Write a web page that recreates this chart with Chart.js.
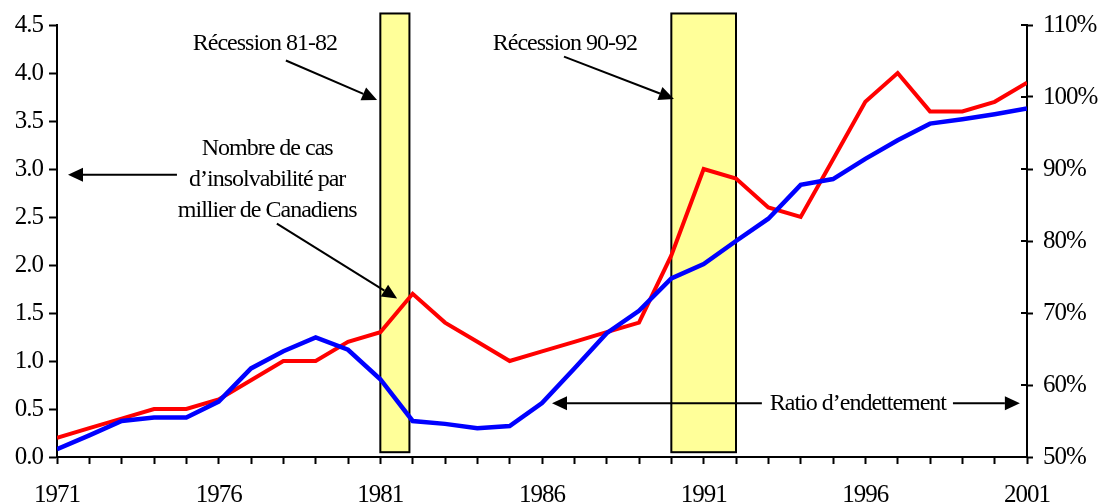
<!DOCTYPE html>
<html>
<head>
<meta charset="utf-8">
<script src="https://cdn.jsdelivr.net/npm/chart.js@4.4.1/dist/chart.umd.min.js"></script>
<style>
  html, body { margin: 0; padding: 0; background: #ffffff; }
  #wrap { width: 1101px; height: 503px; }
</style>
</head>
<body>
<div id="wrap"><canvas id="c" width="1101" height="503"></canvas></div>
<script>
// ---------------- DATA ----------------
const years = [1971,1972,1973,1974,1975,1976,1977,1978,1979,1980,1981,1982,1983,1984,1985,1986,1987,1988,1989,1990,1991,1992,1993,1994,1995,1996,1997,1998,1999,2000,2001];
// Nombre de cas d'insolvabilité par millier de Canadiens (axe de gauche)
const insolvency = [0.2,0.3,0.4,0.5,0.5,0.6,0.8,1.0,1.0,1.2,1.3,1.7,1.4,1.2,1.0,1.1,1.2,1.3,1.4,2.1,3.0,2.9,2.6,2.5,3.1,3.7,4.0,3.6,3.6,3.7,3.9];
// Ratio d'endettement, % (axe de droite)
const debtRatio = [51.1,53.0,55.0,55.5,55.5,57.7,62.3,64.7,66.6,64.9,60.8,55.0,54.6,54.0,54.3,57.5,62.3,67.2,70.3,74.8,76.8,80.0,83.1,87.8,88.6,91.4,94.0,96.3,96.9,97.6,98.4];
// Recession bands (years)
const recessionStart = [1981, 1990];
const recessionEnd   = [1981.9, 1992];
// Axis tick settings
const leftTicks = { min: 0, max: 4.5, step: 0.5 };
const rightTicks = { min: 50, max: 110, step: 10 };
const labelYears = [1971, 1976, 1981, 1986, 1991, 1996, 2001];

// ---------------- ANNOTATIONS (data coordinates: x = year, y = left axis) ----------------
const texts = [
  { lines: ['Récession 81-82'], x: 1977.43, y: 4.30 },
  { lines: ['Récession 90-92'], x: 1986.71, y: 4.30 },
  { lines: ['Nombre de cas', 'd\u2019insolvabilité par', 'millier de Canadiens'], x: 1977.5, y: 3.21, dy: 0.32 },
  { lines: ['Ratio d\u2019endettement'], x: 1995.77, y: 0.56 }
];
const arrows = [
  { x1: 1978.08, y1: 4.13, x2: 1980.90, y2: 3.72 },
  { x1: 1986.68, y1: 4.17, x2: 1990.08, y2: 3.73 },
  { x1: 1977.80, y1: 2.43, x2: 1981.52, y2: 1.65 },
  { x1: 1974.71, y1: 2.94, x2: 1971.34, y2: 2.94 },
  { x1: 1992.80, y1: 0.56, x2: 1986.31, y2: 0.56 },
  { x1: 1998.71, y1: 0.56, x2: 2000.78, y2: 0.56 }
];
const bandTop = 4.62, bandBottom = 0.05;

const FONT = "'Liberation Serif', 'Times New Roman', serif";
const SPACING = '-1px';

const spacingPlugin = {
  id: 'spacing',
  beforeUpdate(chart) { chart.ctx.letterSpacing = SPACING; },
  beforeLayout(chart) { chart.ctx.letterSpacing = SPACING; },
  beforeDraw(chart) { chart.ctx.letterSpacing = SPACING; }
};

const bandPlugin = {
  id: 'bands',
  beforeDatasetsDraw(chart) {
    const ctx = chart.ctx, xs = chart.scales.x, ys = chart.scales.y;
    ctx.save();
    for (let i = 0; i < recessionStart.length; i++) {
      const l = xs.getPixelForValue(recessionStart[i]);
      const r = xs.getPixelForValue(recessionEnd[i]);
      const t = ys.getPixelForValue(bandTop);
      const b = ys.getPixelForValue(bandBottom);
      ctx.fillStyle = '#FFFF99';
      ctx.fillRect(l, t, r - l, b - t);
      ctx.strokeStyle = '#000000';
      ctx.lineWidth = 2;
      ctx.strokeRect(l, t, r - l, b - t);
    }
    ctx.restore();
  }
};

function drawArrow(ctx, x1, y1, x2, y2) {
  const ang = Math.atan2(y2 - y1, x2 - x1);
  const len = 15, hw = 7;
  const bx = x2 - len * Math.cos(ang), by = y2 - len * Math.sin(ang);
  ctx.beginPath();
  ctx.moveTo(x1, y1);
  ctx.lineTo(bx, by);
  ctx.stroke();
  ctx.beginPath();
  ctx.moveTo(x2, y2);
  ctx.lineTo(bx + hw * Math.sin(ang), by - hw * Math.cos(ang));
  ctx.lineTo(bx - hw * Math.sin(ang), by + hw * Math.cos(ang));
  ctx.closePath();
  ctx.fill();
}

const annotPlugin = {
  id: 'annot',
  afterDatasetsDraw(chart) {
    const ctx = chart.ctx, xs = chart.scales.x, ys = chart.scales.y, y1s = chart.scales.y1;
    ctx.save();
    ctx.letterSpacing = SPACING;
    // right-axis ticks crossing the axis line (inner half)
    ctx.strokeStyle = '#000'; ctx.lineWidth = 2;
    const ax = chart.chartArea.right;
    y1s.ticks.forEach(t => {
      const py = Math.round(y1s.getPixelForValue(t.value));
      ctx.beginPath(); ctx.moveTo(ax - 6, py); ctx.lineTo(ax, py); ctx.stroke();
    });
    // arrows
    ctx.fillStyle = '#000'; ctx.strokeStyle = '#000'; ctx.lineWidth = 2;
    arrows.forEach(a => drawArrow(ctx, xs.getPixelForValue(a.x1), ys.getPixelForValue(a.y1), xs.getPixelForValue(a.x2), ys.getPixelForValue(a.y2)));
    // texts
    ctx.font = '24px ' + FONT;
    ctx.textAlign = 'center';
    ctx.textBaseline = 'middle';
    texts.forEach(t => {
      t.lines.forEach((line, i) => {
        const px = xs.getPixelForValue(t.x);
        const py = ys.getPixelForValue(t.y - i * (t.dy || 0));
        const w = ctx.measureText(line).width;
        ctx.fillStyle = '#ffffff';
        if (t.lines.length === 1 && t.y < 1) ctx.fillRect(px - w / 2 - 4, py - 12, w + 8, 24);
        ctx.fillStyle = '#000';
        ctx.fillText(line, px, py);
      });
    });
    ctx.restore();
  }
};

const ctx = document.getElementById('c').getContext('2d');
new Chart(ctx, {
  type: 'line',
  data: {
    datasets: [
      {
        label: 'Ratio d\u2019endettement',
        data: years.map((y, i) => ({ x: y, y: debtRatio[i] })),
        yAxisID: 'y1',
        borderColor: '#0000FF',
        borderWidth: 4.5,
        pointRadius: 0,
        tension: 0,
        order: 0
      },
      {
        label: 'Nombre de cas d\u2019insolvabilité par millier de Canadiens',
        data: years.map((y, i) => ({ x: y, y: insolvency[i] })),
        yAxisID: 'y',
        borderColor: '#FF0000',
        borderWidth: 4,
        pointRadius: 0,
        tension: 0,
        order: 1
      }
    ]
  },
  options: {
    responsive: false,
    animation: false,
    devicePixelRatio: 1,
    layout: { padding: { top: 23, left: 0, right: 0, bottom: 0 } },
    plugins: { legend: { display: false }, tooltip: { enabled: false } },
    scales: {
      x: {
        type: 'linear',
        min: years[0], max: years[years.length - 1],
        afterFit(s) { s.height = 46; },
        border: { color: '#000', width: 2 },
        grid: { drawOnChartArea: false, drawTicks: true, tickLength: 7, tickWidth: 2, tickColor: '#000' },
        ticks: {
          stepSize: 1, autoSkip: false, maxRotation: 0, padding: 16,
          color: '#000', font: { family: FONT, size: 25 },
          callback: v => labelYears.includes(v) ? String(v) : ''
        }
      },
      y: {
        position: 'left',
        min: leftTicks.min, max: leftTicks.max,
        afterFit(s) { s.width = 57; },
        border: { color: '#000', width: 2 },
        grid: { drawOnChartArea: false, drawTicks: true, tickLength: 8, tickWidth: 2, tickColor: '#000' },
        ticks: {
          stepSize: leftTicks.step, padding: 6,
          color: '#000', font: { family: FONT, size: 25 },
          callback: v => Number(v).toFixed(1)
        }
      },
      y1: {
        position: 'right',
        min: rightTicks.min, max: rightTicks.max,
        afterFit(s) { s.width = 74; },
        border: { color: '#000', width: 2 },
        grid: { drawOnChartArea: false, drawTicks: true, tickLength: 6, tickWidth: 2, tickColor: '#000' },
        ticks: {
          stepSize: rightTicks.step, padding: 10,
          color: '#000', font: { family: FONT, size: 25 },
          callback: v => v + '%'
        }
      }
    }
  },
  plugins: [spacingPlugin, bandPlugin, annotPlugin]
});
</script>
</body>
</html>
